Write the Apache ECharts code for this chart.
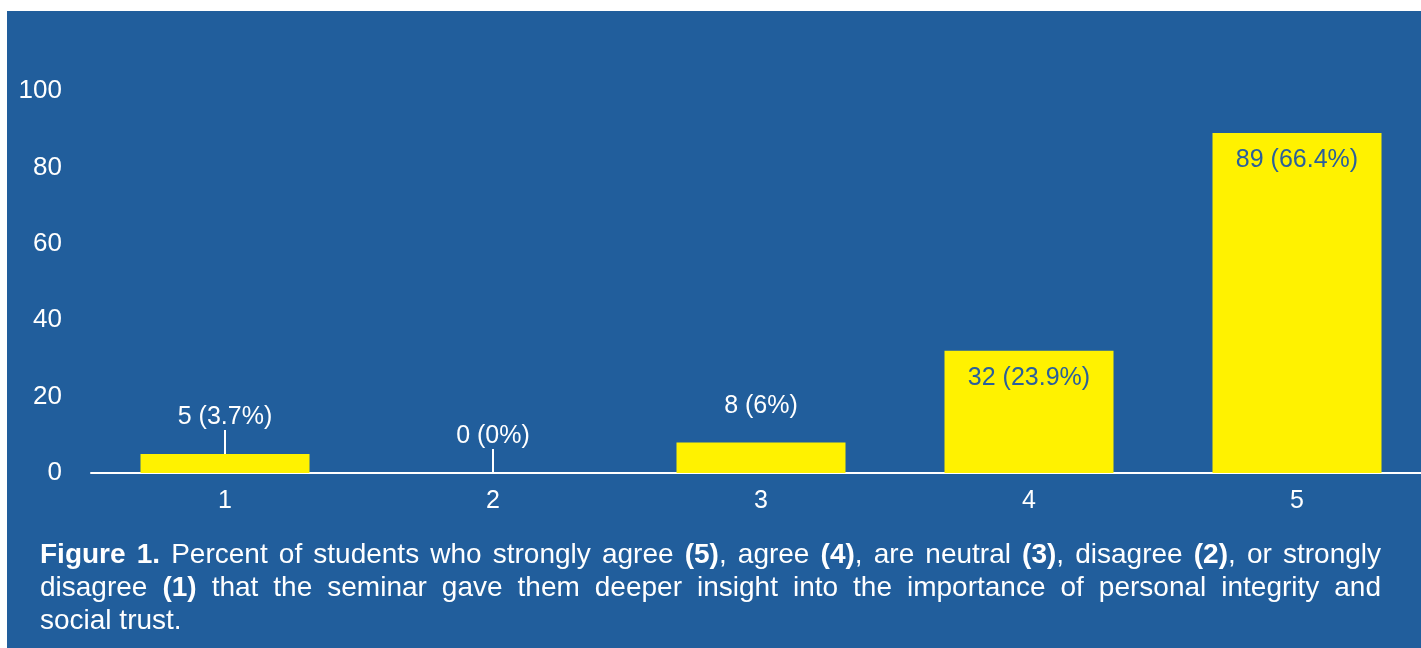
<!DOCTYPE html>
<html>
<head>
<meta charset="utf-8">
<script src="https://cdn.jsdelivr.net/npm/echarts@6/dist/echarts.min.js"></script>
<style>
    html, body { margin: 0; padding: 0; background: #ffffff; }
    #panel {
        position: absolute; left: 7px; top: 11px; width: 1414px; height: 637px;
        background: #215e9c;
    }
    #chart { position: absolute; left: 0; top: 0; width: 1421px; height: 648px; }
    #caption {
        position: absolute; left: 40px; top: 537px; width: 1341px;
        font-family: "Liberation Sans", Arial, sans-serif; font-size: 28px; line-height: 33px;
        color: #ffffff; white-space: nowrap;
    }
    #caption .full { display: block; text-align: justify; text-align-last: justify; }
    #caption .last { display: block; text-align: left; }
</style>
</head>
<body>
<div id="panel"></div>
<div id="chart"></div>
<div id="caption"><span class="full"><b>Figure 1.</b> Percent of students who strongly agree <b>(5)</b>, agree <b>(4)</b>, are neutral <b>(3)</b>, disagree <b>(2)</b>, or strongly</span><span class="full">disagree <b>(1)</b> that the seminar gave them deeper insight into the importance of personal integrity and</span><span class="last">social trust.</span></div>
<script>
// 数据
var categories = ['1', '2', '3', '4', '5'];
var counts = [5, 0, 8, 32, 89];
var percents = ['3.7%', '0%', '6%', '23.9%', '66.4%'];
var yTicks = [0, 20, 40, 60, 80, 100];

(function () {
    var chart = echarts.init(document.getElementById('chart'), null, {renderer: 'canvas'});

    var barData = counts.map(function (v, i) {
        var item = {value: v};
        if (v > 20) {
            // 大柱子：标签放在柱内顶部
            item.label = {position: 'insideTop', distance: 15, color: '#2a5f9c'};
        } else if (i < 2) {
            // 小柱子：标签上移并带引线
            item.label = {position: 'top', distance: 2};
            item.labelLine = {show: true, lineStyle: {color: '#ffffff', width: 2}};
        } else {
            item.label = {position: 'top', distance: 24};
        }
        return item;
    });

    var option = {
        backgroundColor: 'transparent',
        animation: false,
        textStyle: {fontFamily: 'Liberation Sans, Arial, sans-serif'},
        grid: {left: 91, width: 1340, top: 91, bottom: 175, containLabel: false, outerBoundsMode: 'none'},
        xAxis: {
            type: 'category',
            data: categories,
            axisLine: {lineStyle: {color: '#ffffff', width: 2}},
            axisTick: {show: false},
            axisLabel: {color: '#ffffff', fontSize: 25, margin: 16}
        },
        yAxis: {
            type: 'value',
            min: yTicks[0],
            max: yTicks[yTicks.length - 1],
            interval: 20,
            splitLine: {show: false},
            axisLine: {show: false},
            axisTick: {show: false},
            axisLabel: {color: '#ffffff', fontSize: 26, margin: 29}
        },
        series: [
            {
                type: 'bar',
                data: barData,
                barWidth: 169,
                itemStyle: {color: '#fff200'},
                label: {
                    show: true,
                    color: '#ffffff',
                    fontSize: 25,
                    formatter: function (p) {
                        return p.value + ' (' + percents[p.dataIndex] + ')';
                    }
                },
                labelLayout: function (params) {
                    if (params.dataIndex < 2) {
                        return {dy: -22};
                    }
                    return {};
                }
            }
        ]
    };

    chart.setOption(option);
})();
</script>
</body>
</html>
